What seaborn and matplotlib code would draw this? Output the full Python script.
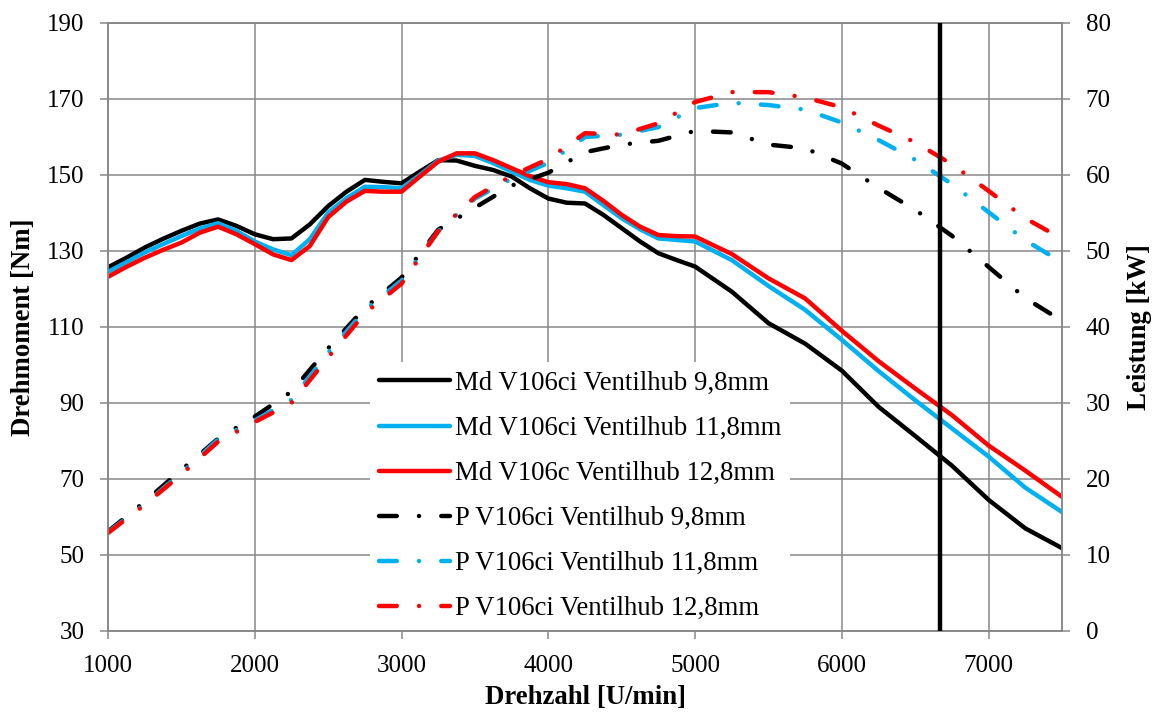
import matplotlib
matplotlib.use("Agg")
import matplotlib.pyplot as plt
import seaborn as sns

# Engine speed [U/min] for the torque curves
rpm_md = [1000, 1125, 1250, 1375, 1500, 1625, 1750, 1875, 2000, 2125, 2250, 2375, 2500,
          2625, 2750, 2875, 3000, 3125, 3250, 3375, 3500, 3625, 3750, 3875, 4000,
          4125, 4250, 4375, 4500, 4625, 4750, 4875, 5000,
          5250, 5500, 5750, 6000, 6250, 6500, 6750, 7000, 7250, 7500]

# Torque [Nm]
md_98 = [125.7, 128.2, 130.9, 133.2, 135.3, 137.2, 138.3, 136.6, 134.4, 133.1, 133.3, 137.0, 141.8,
         145.6, 148.7, 148.2, 147.8, 150.9, 153.9, 153.8, 152.4, 151.3, 149.6, 146.5, 143.8,
         142.7, 142.5, 139.5, 136.0, 132.5, 129.4, 127.6, 125.9,
         119.3, 111.0, 105.6, 98.5, 89.0, 81.3, 73.5, 64.5, 57.0, 51.8]
md_118 = [124.5, 127.0, 129.6, 131.8, 133.9, 135.9, 137.3, 135.3, 132.5, 130.4, 128.9, 133.1, 140.1,
          143.9, 146.9, 146.8, 146.5, 150.0, 153.8, 155.3, 155.0, 153.1, 150.9, 148.7, 147.2,
          146.5, 145.6, 142.1, 138.6, 135.7, 133.3, 132.9, 132.5,
          127.6, 120.8, 114.5, 106.6, 98.4, 90.7, 83.3, 75.9, 67.7, 61.3]
md_128 = [123.2, 125.8, 128.2, 130.3, 132.2, 134.8, 136.4, 134.4, 131.8, 129.1, 127.6, 131.3, 138.9,
          143.0, 145.8, 145.6, 145.6, 149.6, 153.5, 155.7, 155.7, 153.9, 151.8, 149.7, 148.1,
          147.6, 146.5, 143.2, 139.5, 136.4, 134.2, 133.9, 133.8,
          129.2, 122.8, 117.5, 109.0, 101.0, 93.8, 86.8, 78.8, 72.2, 65.3]

# Engine speed [U/min] for the power curves
rpm_p = [1000, 1250, 1500, 1750, 2000, 2250, 2500, 2750, 3000, 3250, 3500, 3750, 4000,
         4250, 4500, 4750, 5000, 5250, 5500, 5750, 6000, 6250, 6500, 6750, 7000, 7250, 7500]

# Power [kW]
p_98 = [13.1, 17.0, 21.2, 25.3, 28.2, 31.5, 37.2, 42.5, 46.5, 52.8, 55.7, 58.6, 60.3,
        63.0, 64.0, 64.5, 65.8, 65.6, 64.0, 63.5, 61.5, 58.3, 55.4, 52.0, 47.9, 43.8, 40.8]
p_118 = [13.0, 16.7, 20.8, 25.2, 27.7, 30.4, 36.6, 42.2, 46.1, 52.6, 56.9, 59.5, 61.6,
         65.0, 65.3, 66.3, 68.8, 69.5, 69.2, 68.6, 66.9, 64.6, 62.0, 58.8, 55.1, 51.4, 48.5]
p_128 = [12.9, 16.6, 20.6, 24.9, 27.5, 30.0, 36.0, 41.8, 45.7, 52.6, 57.1, 59.9, 62.1,
         65.5, 65.3, 66.8, 69.6, 70.9, 70.9, 70.2, 68.9, 66.5, 64.3, 61.4, 57.9, 54.3, 51.6]

marker_rpm = 6670

labels_md = ["Md V106ci Ventilhub 9,8mm", "Md V106ci Ventilhub 11,8mm", "Md V106c Ventilhub 12,8mm"]
labels_p = ["P V106ci Ventilhub 9,8mm", "P V106ci Ventilhub 11,8mm", "P V106ci Ventilhub 12,8mm"]
colors = ["#000000", "#00B0F0", "#FF0000"]

sns.set_theme(style="white")
plt.rcParams["font.family"] = ["Liberation Serif", "DejaVu Serif"]
plt.rcParams["text.color"] = "black"
plt.rcParams["axes.labelcolor"] = "black"

GRID = "#878787"
FS = 18
FS_TXT = 19.3

fig = plt.figure(figsize=(11.55, 7.18), dpi=100)
ax = fig.add_axes([0.0935, 0.1212, 0.8260, 0.8468])
ax2 = ax.twinx()

lw = 3.2
for y, c, lab in zip([md_98, md_118, md_128], colors, labels_md):
    sns.lineplot(x=rpm_md, y=y, ax=ax, color=c, lw=lw, label=lab,
                 solid_capstyle="round", solid_joinstyle="round")
for y, c, lab in zip([p_98, p_118, p_128], colors, labels_p):
    sns.lineplot(x=rpm_p, y=y, ax=ax2, color=c, lw=lw, label=lab,
                 linestyle=(0, (4, 5, 0.01, 5)), dash_capstyle="round")

ax2.axvline(marker_rpm, color="black", lw=3.2, zorder=6)

ax.set_xlim(1000, 7500)
ax.set_ylim(30, 190)
ax.set_xticks(range(1000, 7001, 1000))
ax.set_yticks(range(30, 191, 20))
ax2.set_ylim(0, 80)
ax2.set_yticks(range(0, 81, 10))

ax.grid(True, color=GRID, lw=1.1)
ax2.grid(False)
for a in (ax, ax2):
    for s in a.spines.values():
        s.set_color(GRID)
        s.set_linewidth(1.1)

ax.tick_params(axis="y", left=True, direction="out", length=6, width=1.1,
               color=GRID, labelcolor="black", labelsize=FS, pad=11)
ax.tick_params(axis="x", bottom=True, direction="out", length=6, width=1.1,
               color=GRID, labelcolor="black", labelsize=FS, pad=11)
ax2.tick_params(axis="y", right=True, direction="out", length=6, width=1.1,
                color=GRID, labelcolor="black", labelsize=FS, pad=11)

ax.set_xlabel("Drehzahl [U/min]", fontsize=FS_TXT, fontweight="bold", labelpad=6)
ax.set_ylabel("Drehmoment [Nm]", fontsize=FS_TXT, fontweight="bold", labelpad=8)
ax2.set_ylabel("Leistung [kW]", fontsize=FS_TXT, fontweight="bold", labelpad=12)

h1, l1 = ax.get_legend_handles_labels()
h2, l2 = ax2.get_legend_handles_labels()
if ax.get_legend() is not None:
    ax.get_legend().remove()
leg = ax2.legend(h1 + h2, l1 + l2, loc="upper left", bbox_to_anchor=(0.2746, 0.4424),
                 borderaxespad=0, frameon=True, fancybox=False, facecolor="white",
                 edgecolor="none", framealpha=1, fontsize=FS_TXT, handlelength=2.65,
                 handletextpad=0.2, labelspacing=0.75, borderpad=0.33)
leg.set_zorder(10)

fig.savefig("out.png", dpi=100)
